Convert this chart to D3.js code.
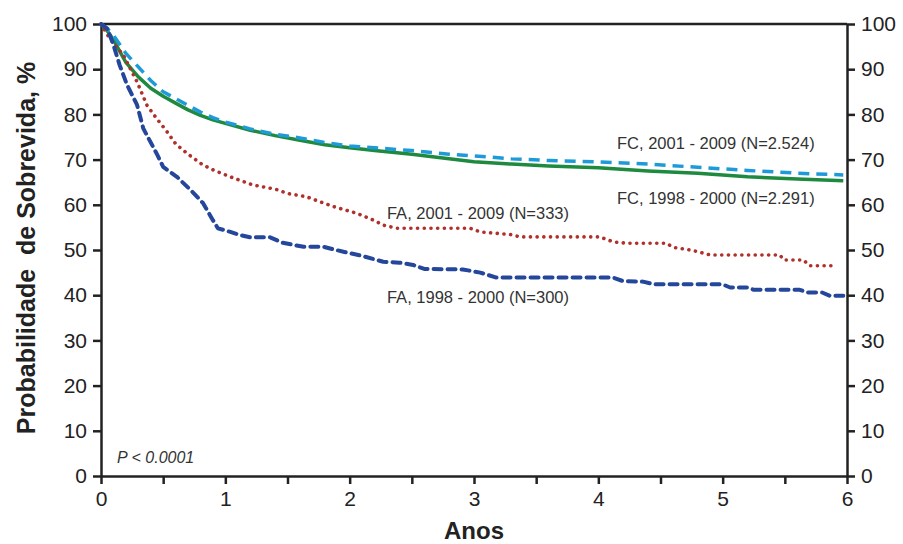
<!DOCTYPE html>
<html>
<head>
<meta charset="utf-8">
<script src="https://cdn.jsdelivr.net/npm/d3@7"></script>
<style>
body{margin:0;background:#fff;}
text{font-family:"Liberation Sans",Arial,sans-serif;}
</style>
</head>
<body>
<script>
// Kaplan-Meier curves: [years, survival %]
var fc2001 = [[0,100],[0.05,99],[0.1,97.5],[0.2,93.5],[0.3,90.5],[0.4,87.5],[0.5,85],[0.6,83.5],[0.7,82],[0.8,80.5],[0.9,79.3],[1.0,78.3],[1.2,76.8],[1.4,75.6],[1.6,74.8],[1.8,73.8],[2.0,73.0],[2.2,72.6],[2.5,72.0],[2.8,71.2],[3.0,70.8],[3.3,70.2],[3.6,69.8],[4.0,69.5],[4.4,69.0],[4.8,68.3],[5.2,67.6],[5.6,67.0],[5.97,66.6]]
var fc1998 = [[0,100],[0.05,98.5],[0.1,96.5],[0.2,91.5],[0.3,88.3],[0.4,85.8],[0.5,84],[0.6,82.5],[0.7,81],[0.8,79.8],[0.9,78.8],[1.0,78.0],[1.2,76.5],[1.4,75.3],[1.6,74.3],[1.8,73.3],[2.0,72.6],[2.2,72.0],[2.5,71.2],[2.8,70.2],[3.0,69.5],[3.3,69.0],[3.6,68.6],[4.0,68.2],[4.4,67.5],[4.8,67.0],[5.2,66.2],[5.6,65.7],[5.97,65.3]]
var fa2001 = [[0,100],[0.07,96.8],[0.18,93.1],[0.29,87.2],[0.37,82],[0.45,79],[0.53,76.2],[0.6,73.5],[0.7,71.2],[0.82,68.8],[0.92,67.5],[1.04,66.2],[1.22,64.4],[1.41,63.4],[1.5,62.5],[1.65,61.8],[1.87,59.6],[2.06,58.1],[2.2,56.5],[2.27,55.5],[2.38,54.8],[2.97,54.8],[3.05,54.0],[3.3,53.4],[3.37,52.9],[4.01,52.9],[4.12,51.8],[4.23,51.5],[4.55,51.5],[4.6,50.6],[4.76,49.9],[4.9,48.9],[5.46,48.9],[5.49,47.8],[5.65,47.8],[5.7,46.5],[5.92,46.5]]
var fa1998 = [[0,100],[0.05,99],[0.1,95.4],[0.15,90.9],[0.21,86.5],[0.29,82.1],[0.34,76.9],[0.45,71.2],[0.5,68.4],[0.61,66.2],[0.72,63.3],[0.82,60.4],[0.9,56.6],[0.94,54.8],[1.04,54.0],[1.12,53.3],[1.2,52.8],[1.36,52.8],[1.46,51.6],[1.63,50.7],[1.79,50.7],[1.95,49.6],[2.1,48.7],[2.27,47.4],[2.4,47.2],[2.51,46.7],[2.6,45.8],[2.91,45.7],[3.05,45.0],[3.18,43.9],[4.12,43.9],[4.2,43.1],[4.36,43.0],[4.45,42.4],[5.0,42.4],[5.06,41.7],[5.2,41.7],[5.25,41.2],[5.62,41.2],[5.68,40.6],[5.8,40.6],[5.86,39.9],[5.97,39.9]]

var xTicks = [0,1,2,3,4,5,6]
var xMinor = [0.5,1.5,2.5,3.5,4.5,5.5]
var yTicks = [0,10,20,30,40,50,60,70,80,90,100]

var labels = [
  {text:"FC, 2001 - 2009 (N=2.524)", t:4.15, v:72.4},
  {text:"FC, 1998 - 2000 (N=2.291)", t:4.15, v:60.1},
  {text:"FA, 2001 - 2009 (N=333)", t:2.3, v:56.9},
  {text:"FA, 1998 - 2000 (N=300)", t:2.3, v:38.2}
]

var w = 903, h = 544
var svg = d3.select("body").append("svg").attr("width", w).attr("height", h)

var x = d3.scaleLinear().domain([0,6]).range([101,847])
var y = d3.scaleLinear().domain([0,100]).range([476,24])

var axisColor = "#222"

// axes
var gl = svg.append("g").attr("transform", "translate(101,0)")
  .call(d3.axisLeft(y).tickValues(yTicks).tickSize(8).tickSizeOuter(0).tickPadding(6))
var gr = svg.append("g").attr("transform", "translate(847,0)")
  .call(d3.axisRight(y).tickValues(yTicks).tickSize(8).tickSizeOuter(0).tickPadding(6))
var gb = svg.append("g").attr("transform", "translate(0,476)")
  .call(d3.axisBottom(x).tickValues(xTicks).tickSize(8).tickSizeOuter(0).tickPadding(7).tickFormat(d3.format("d")))
var gm = svg.append("g").attr("transform", "translate(0,476)")
  .call(d3.axisBottom(x).tickValues(xMinor).tickSize(8).tickSizeOuter(0).tickFormat(""))
gm.select(".domain").remove()

svg.append("line").attr("x1", 101).attr("x2", 847).attr("y1", 24).attr("y2", 24)
  .attr("stroke", axisColor).attr("stroke-width", 2.5)

svg.selectAll(".domain").attr("stroke", axisColor).attr("stroke-width", 2.5)
svg.selectAll(".tick line").attr("stroke", axisColor).attr("stroke-width", 2.5)
svg.selectAll(".tick text").attr("fill", "#222").style("font-size", "21px")
  .style("font-family", "'Liberation Sans', Arial, sans-serif")

// curves
var line = d3.line().x(function(d){return x(d[0])}).y(function(d){return y(d[1])})

function drawCurve(data, color, width, dash, cap) {
  svg.append("path").datum(data)
    .attr("d", line)
    .attr("fill", "none")
    .attr("stroke", color)
    .attr("stroke-width", width)
    .attr("stroke-dasharray", dash)
    .attr("stroke-linecap", cap)
    .attr("stroke-linejoin", "round")
}

drawCurve(fc1998, "#1d8a3f", 3.5, null, "butt")
drawCurve(fc2001, "#1f9ad8", 3.5, "11,7", "butt")
drawCurve(fa2001, "#b0302b", 3.6, "0.1,6.6", "round")
drawCurve(fa1998, "#25479b", 4, "8,6", "round")

// series labels
svg.selectAll(".lbl").data(labels).enter().append("text")
  .attr("class", "lbl")
  .attr("x", function(d){return x(d.t)})
  .attr("y", function(d){return y(d.v)})
  .attr("fill", "#333")
  .style("font-size", "16.5px")
  .text(function(d){return d.text})

svg.append("text").attr("x", 117).attr("y", 463)
  .attr("fill", "#333").style("font-size", "16px").style("font-style", "italic")
  .text("P < 0.0001")

// axis titles
svg.append("text").attr("transform", "translate(35,248) rotate(-90)")
  .attr("text-anchor", "middle").attr("fill", "#222")
  .style("font-size", "25px").style("font-weight", "bold")
  .attr("xml:space", "preserve")
  .text("Probabilidade  de Sobrevida, %")

svg.append("text").attr("x", 474).attr("y", 539)
  .attr("text-anchor", "middle").attr("fill", "#222")
  .style("font-size", "24px").style("font-weight", "bold")
  .text("Anos")
</script>
</body>
</html>
